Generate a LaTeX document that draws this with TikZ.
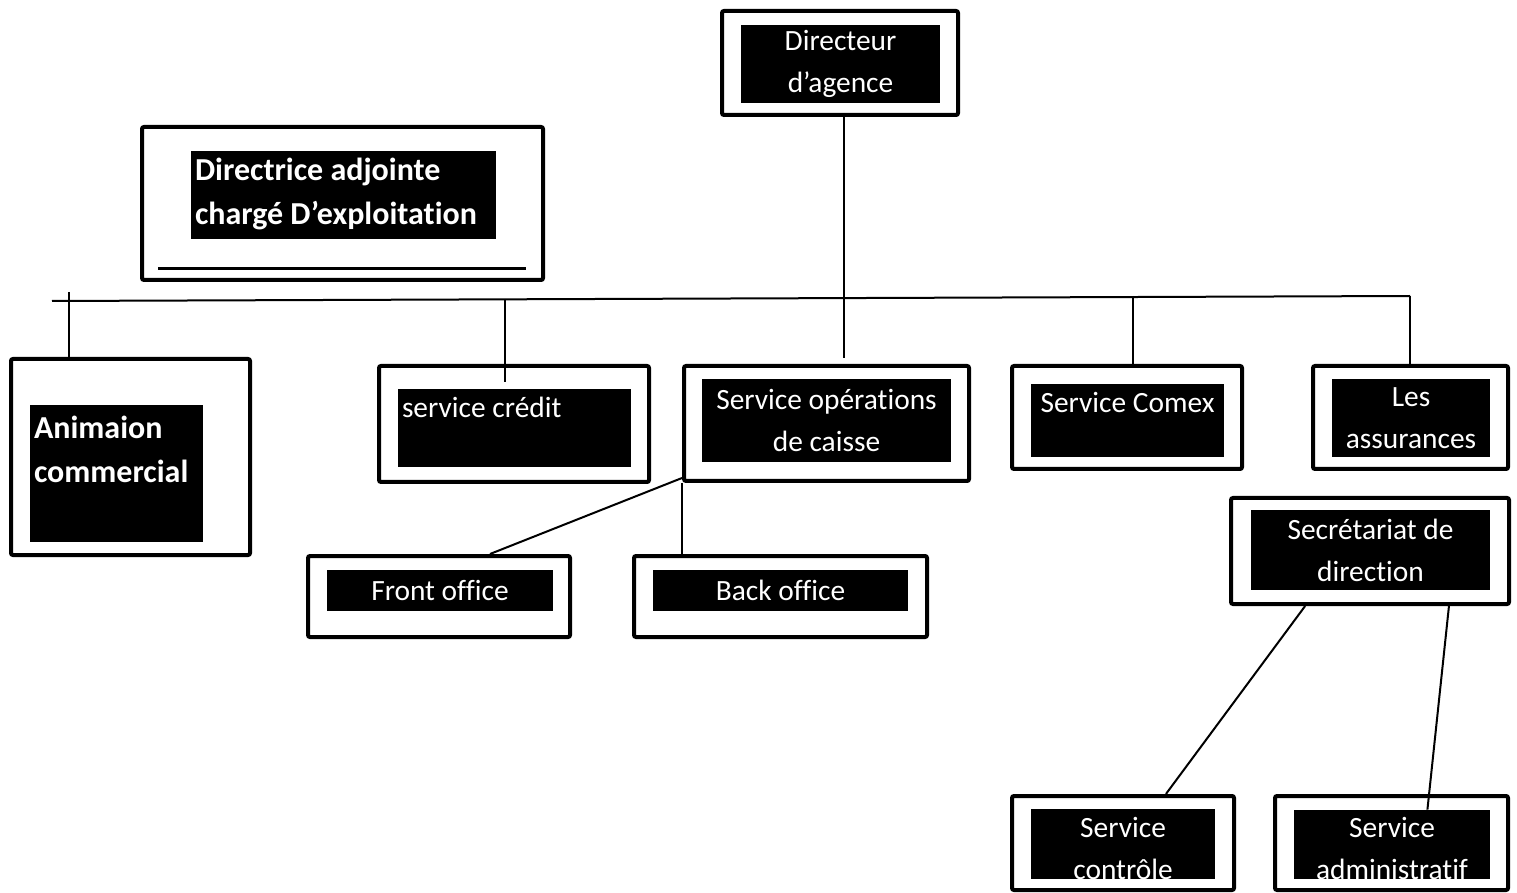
\documentclass[tikz,border=0pt]{standalone}
\usepackage{fontspec}
\setmainfont[Ligatures=NoCommon]{Carlito}
\usetikzlibrary{calc}

\tikzset{
  orgframe/.style={draw, line width=2pt, rounded corners=1pt, inner sep=0pt},
  orgfill/.style={fill=black, text=white, inner sep=0pt, align=center, font=\fontsize{14.7}{21}\selectfont},
  orgtext/.style={text=white, inner sep=0pt, font=\fontsize{14.7}{21}\selectfont},
  orgbold/.style={font=\bfseries\fontsize{16}{22}\selectfont},
  orgline/.style={line width=1pt},
}

\begin{document}
\begin{tikzpicture}[x=0.5pt,y=-0.5pt]
  \useasboundingbox (0,0) rectangle (1517,893);

  % direction
  \node[orgframe, minimum width=118pt, minimum height=52pt] (dir) at (840,63) {};
  \node[orgfill, minimum width=99.5pt, minimum height=39pt] (dirIn) at (840.5,64) {Directeur\\d’agence};

  \node[orgframe, minimum width=200.5pt, minimum height=76.5pt] (adj) at (342.5,203.5) {};
  \node[orgfill, minimum width=152.5pt, minimum height=44pt] (adjIn) at (343.5,195) {};
  \node[orgtext, orgbold, anchor=west, align=left] (adjTxt) at ($(adjIn.west)+(4,-1)$) {Directrice adjointe\\chargé D’exploitation};
  \draw[line width=1.5pt] ($(adj.south west)+(18,-13)$) -- ($(adj.south east)+(-19,-13)$);

  % services
  \node[orgframe, minimum width=119.5pt, minimum height=98pt] (anim) at (130.5,457) {};
  \node[orgfill, minimum width=86.5pt, minimum height=68.5pt] (animIn) at (116.5,473.5) {};
  \node[orgtext, orgbold, anchor=north west, align=left] (animTxt) at ($(animIn.north west)+(4,11)$) {Animaion\\commercial};

  \node[orgframe, minimum width=135pt, minimum height=58pt] (cred) at (514,424) {};
  \node[orgfill, minimum width=116.5pt, minimum height=39pt] (credIn) at (514.5,428) {};
  \node[orgtext, anchor=base west] (credTxt) at ($(credIn.north west)+(4,29)$) {service crédit};

  \node[orgframe, minimum width=142.5pt, minimum height=57.5pt] (ops) at (826.5,423.5) {};
  \node[orgfill, minimum width=124.5pt, minimum height=41.5pt] (opsIn) at (826.5,420.5) {Service opérations\\de caisse};

  \node[orgframe, minimum width=115pt, minimum height=51.5pt] (comex) at (1127,417.5) {};
  \node[orgfill, minimum width=96.5pt, minimum height=36.5pt] (comexIn) at (1127.5,420.5) {};
  \node[orgtext, anchor=base] (comexTxt) at ($(comexIn.north)+(0,29)$) {Service Comex};

  \node[orgframe, minimum width=97.5pt, minimum height=51.5pt] (assur) at (1410.5,417.5) {};
  \node[orgfill, minimum width=79pt, minimum height=39pt] (assurIn) at (1411,418) {Les\\assurances};

  \node[orgframe, minimum width=139pt, minimum height=53pt] (secr) at (1370,551) {};
  \node[orgfill, minimum width=119.5pt, minimum height=40pt] (secrIn) at (1370.5,550) {Secrétariat de\\direction};

  % sous-services
  \node[orgframe, minimum width=131pt, minimum height=40.5pt] (front) at (439,596.5) {};
  \node[orgfill, minimum width=113pt, minimum height=20.5pt] (frontIn) at (440,590.5) {Front office};

  \node[orgframe, minimum width=146.5pt, minimum height=40.5pt] (back) at (780.5,596.5) {};
  \node[orgfill, minimum width=127.5pt, minimum height=20.5pt] (backIn) at (780.5,590.5) {Back office};

  \node[orgframe, minimum width=111pt, minimum height=47pt] (ctrl) at (1123,843) {};
  \node[orgfill, minimum width=92pt, minimum height=35pt] (ctrlIn) at (1123,844) {};
  \node[orgtext, align=center] (ctrlTxt) at (1123,848) {Service\\contrôle};

  \node[orgframe, minimum width=116.5pt, minimum height=47pt] (adm) at (1391.5,843) {};
  \node[orgfill, minimum width=98pt, minimum height=34.5pt] (admIn) at (1392,844.5) {};
  \node[orgtext, align=center] (admTxt) at (1392,848) {Service\\administratif};

  % liaisons
  \coordinate (trunkEnd) at (844,358);
  \coordinate (busL) at (52,301);
  \coordinate (busR) at (1410,296);
  \coordinate (tickA) at (69,292);
  \coordinate (credTop) at (505,299);
  \coordinate (credEnd) at (505,382);
  \coordinate (comexTop) at (1133,296);
  \draw[orgline] (trunkEnd |- dir.south) -- (trunkEnd);
  \draw[orgline] (busL) -- (busR);
  \draw[orgline] (tickA) -- (tickA |- anim.north);
  \draw[orgline] (credTop) -- (credEnd);
  \draw[orgline] (comexTop) -- (comexTop |- comex.north);
  \draw[orgline] (busR) -- (busR |- assur.north);
  \draw[orgline] ($(ops.south west)+(0,-5)$) -- ($(front.north)+(51,0)$);
  \draw[orgline] (ops.south west) -- (ops.south west |- back.north);
  \draw[orgline] ($(secr.south west)!0.27!(secr.south east)$) -- ($(ctrl.north west)!0.69!(ctrl.north east)$);
  \draw[orgline] ($(secr.south west)!0.78!(secr.south east)$) -- ($(admIn.north west)!0.68!(admIn.north east)$);
\end{tikzpicture}
\end{document}
